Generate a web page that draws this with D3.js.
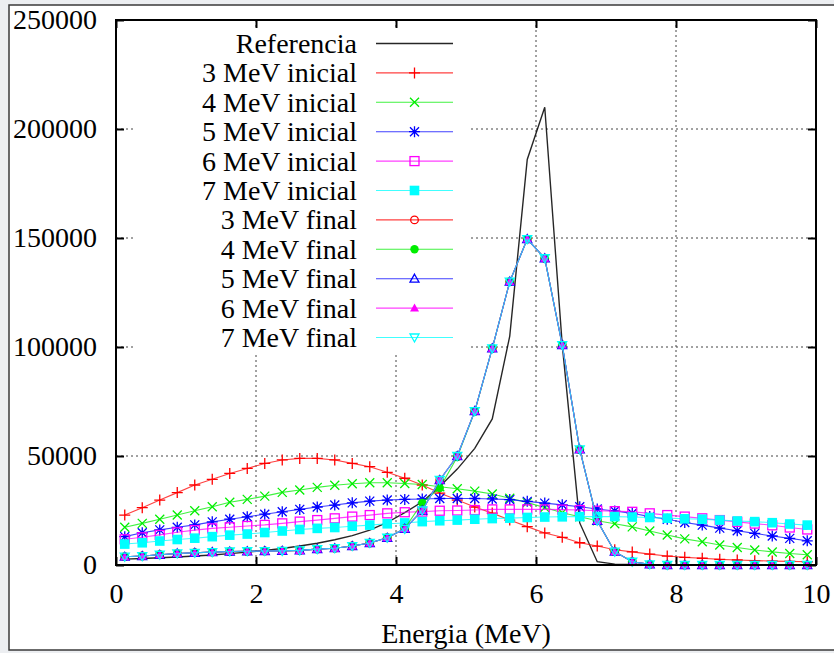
<!doctype html>
<html lang='es'>
  <head>
    <meta charset="utf-8">
    <script src="https://d3js.org/d3.v7.min.js"></script>
    <title>Energia (MeV)</title>
  <style>
  body {
    margin: 0;
    background-color: #eceef1;
  }

  svg text {
    font-family: "Liberation Serif", Tinos, "Times New Roman", Times, "Nimbus Roman", "Noto Serif", "DejaVu Serif", FreeSerif, serif !important;
  }
  </style>
  </head>

  <body>
    <div id='chart'></div>
    <script>
    // energias (centros de los bins, MeV)
    const energia = [0.125, 0.375, 0.625, 0.875, 1.125, 1.375, 1.625, 1.875, 2.125, 2.375,
                     2.625, 2.875, 3.125, 3.375, 3.625, 3.875, 4.125, 4.375, 4.625, 4.875,
                     5.125, 5.375, 5.625, 5.875, 6.125, 6.375, 6.625, 6.875, 7.125, 7.375,
                     7.625, 7.875, 8.125, 8.375, 8.625, 8.875, 9.125, 9.375, 9.625, 9.875];

    const referencia = [2700, 3000, 3300, 3700, 4100, 4600, 5200, 5900, 6700, 7600,
                        8700, 10000, 11600, 13500, 16000, 19500, 24000, 29000, 36000, 44000,
                        53500, 67000, 105000, 186000, 210000, 101000, 19300, 1500, 400, 200,
                        100, 0, 0, 0, 0, 0, 0, 0, 0, 0];

    const ini3 = [22900, 26300, 29800, 33200, 36700, 39300, 42000, 44300, 46600, 48200,
                  48900, 48900, 48200, 46600, 45100, 42500, 39800, 36700, 33000, 29800,
                  26600, 23800, 20600, 17600, 14700, 12700, 10200, 8700, 7000, 6000,
                  5000, 4100, 3500, 3100, 2600, 2300, 2000, 1800, 1650, 1500];

    const ini4 = [17300, 19100, 21000, 22900, 24900, 26700, 28800, 30100, 31600, 33300,
                  34400, 35600, 36600, 37300, 37700, 37700, 37400, 36900, 35900, 35000,
                  33900, 32600, 30600, 28600, 26400, 24000, 22100, 20300, 18900, 17500,
                  15600, 13800, 12000, 10700, 9200, 8000, 6900, 6000, 5300, 4700];

    const ini5 = [13000, 14800, 16100, 17300, 18400, 19800, 21000, 22100, 23300, 24400,
                  25500, 26600, 27500, 28500, 29300, 29800, 30100, 30300, 30500, 30500,
                  30500, 30300, 30000, 29200, 28400, 27600, 26700, 25700, 24800, 23700,
                  22200, 21000, 19500, 18300, 16900, 15700, 14500, 13300, 12200, 11100];

    const ini6 = [11800, 12700, 13800, 15000, 16000, 16800, 17300, 17900, 18400, 19100,
                  19900, 20600, 21400, 22200, 22900, 23700, 24200, 24500, 24900, 25000,
                  25200, 25500, 25500, 25500, 25500, 25400, 25200, 24900, 24700, 24400,
                  23700, 22900, 22200, 21400, 20600, 19800, 19000, 18200, 17200, 16300];

    const ini7 = [9600, 10200, 11000, 11700, 12300, 13000, 13700, 14200, 14900, 15600,
                  16300, 16800, 17200, 17800, 18300, 18900, 19300, 19900, 20300, 20600,
                  21000, 21300, 21500, 21800, 22000, 22100, 22200, 22200, 22200, 22000,
                  21800, 21500, 21200, 21000, 20600, 20200, 19900, 19400, 18800, 18300];

    const fin3 = [3800, 4100, 4700, 5300, 5600, 5900, 6200, 6300, 6400, 6500,
                  6700, 7300, 7700, 8700, 10100, 12500, 16600, 25000, 39000, 50000,
                  70600, 99400, 130000, 149500, 140700, 100900, 53000, 20300, 6100, 1500,
                  300, 0, 0, 0, 0, 0, 0, 0, 0, 0];

    const fin4 = [3800, 4100, 4700, 5300, 5600, 5900, 6200, 6300, 6400, 6500,
                  6700, 7300, 7700, 8700, 10100, 12500, 16800, 28500, 35300, 49500,
                  70400, 99400, 130000, 149500, 140700, 100900, 53000, 20300, 6100, 1500,
                  300, 0, 0, 0, 0, 0, 0, 0, 0, 0];

    const fin5 = [3800, 4100, 4700, 5300, 5600, 5900, 6200, 6300, 6400, 6500,
                  6700, 7300, 7700, 8700, 10100, 12500, 16600, 25000, 39000, 50000,
                  70600, 99400, 130000, 149500, 140700, 100900, 53000, 20300, 6100, 1500,
                  300, 0, 0, 0, 0, 0, 0, 0, 0, 0];

    const fin6 = [3800, 4100, 4700, 5300, 5600, 5900, 6200, 6300, 6400, 6500,
                  6700, 7300, 7700, 8700, 10100, 12500, 16600, 25000, 39000, 50000,
                  70600, 99400, 130000, 149500, 140700, 100900, 53000, 20300, 6100, 1500,
                  300, 0, 0, 0, 0, 0, 0, 0, 0, 0];

    const fin7 = [3800, 4100, 4700, 5300, 5600, 5900, 6200, 6300, 6400, 6500,
                  6700, 7300, 7700, 8700, 10100, 12500, 16600, 25000, 39000, 50000,
                  70600, 99400, 130000, 149500, 140700, 100900, 53000, 20300, 6100, 1500,
                  300, 0, 0, 0, 0, 0, 0, 0, 0, 0];

    const xTicks = [0, 2, 4, 6, 8, 10];
    const yTicks = [0, 50000, 100000, 150000, 200000, 250000];

    const series = [
      {name: 'Referencia',     values: referencia, color: '#000000', marker: null},
      {name: '3 MeV inicial',  values: ini3, color: '#ff0000', marker: 'plus'},
      {name: '4 MeV inicial',  values: ini4, color: '#00ee00', marker: 'cross'},
      {name: '5 MeV inicial',  values: ini5, color: '#0000ff', marker: 'star'},
      {name: '6 MeV inicial',  values: ini6, color: '#ff00ff', marker: 'square'},
      {name: '7 MeV inicial',  values: ini7, color: '#00ffff', marker: 'squareFill'},
      {name: '3 MeV final',    values: fin3, color: '#ff0000', marker: 'circle'},
      {name: '4 MeV final',    values: fin4, color: '#00ee00', marker: 'circleFill'},
      {name: '5 MeV final',    values: fin5, color: '#0000ff', marker: 'triangle'},
      {name: '6 MeV final',    values: fin6, color: '#ff00ff', marker: 'triangleFill'},
      {name: '7 MeV final',    values: fin7, color: '#00ffff', marker: 'triangleDown'}
    ];

    const W = 834, H = 653;
    const pLeft = 116, pRight = 816, pTop = 20, pBottom = 565;

    const svg = d3.select('#chart')
                  .append('svg')
                  .attr('width', W)
                  .attr('height', H);

    // marco de la imagen
    svg.append('rect')
       .attr('x', 9).attr('y', 5)
       .attr('width', W).attr('height', 645)
       .attr('fill', 'white')
       .attr('stroke', '#3a3a3a')
       .attr('stroke-width', 1.5);

    const xScale = d3.scaleLinear().domain([0, 10]).range([pLeft, pRight]);
    const yScale = d3.scaleLinear().domain([0, 250000]).range([pBottom, pTop]);

    // rejilla
    const grid = svg.append('g')
                    .attr('stroke', '#444')
                    .attr('stroke-width', 1)
                    .attr('stroke-dasharray', '2,3');
    grid.selectAll('.gx')
        .data(xTicks.slice(1, -1))
        .enter()
        .append('line')
        .attr('x1', d => xScale(d)).attr('x2', d => xScale(d))
        .attr('y1', pTop).attr('y2', pBottom);
    grid.selectAll('.gy')
        .data(yTicks.slice(1, -1))
        .enter()
        .append('line')
        .attr('x1', pLeft).attr('x2', pRight)
        .attr('y1', d => yScale(d)).attr('y2', d => yScale(d));

    // caja opaca de la leyenda
    svg.append('rect')
       .attr('x', 133).attr('y', 28)
       .attr('width', 337).attr('height', 327)
       .attr('fill', 'white');

    function drawMarker(g, type, color) {
      const sw = 1.3;
      if (type === 'plus') {
        g.append('path').attr('d', 'M-5.5,0H5.5M0,-5.5V5.5').attr('stroke', color).attr('stroke-width', sw);
      } else if (type === 'cross') {
        g.append('path').attr('d', 'M-4.5,-4.5L4.5,4.5M-4.5,4.5L4.5,-4.5').attr('stroke', color).attr('stroke-width', sw);
      } else if (type === 'star') {
        g.append('path').attr('d', 'M-5.5,0H5.5M0,-5.5V5.5M-4.5,-4.5L4.5,4.5M-4.5,4.5L4.5,-4.5').attr('stroke', color).attr('stroke-width', sw);
      } else if (type === 'square') {
        g.append('rect').attr('x', -4.5).attr('y', -4.5).attr('width', 9).attr('height', 9)
         .attr('fill', 'none').attr('stroke', color).attr('stroke-width', sw);
      } else if (type === 'squareFill') {
        g.append('rect').attr('x', -4.8).attr('y', -4.8).attr('width', 9.6).attr('height', 9.6)
         .attr('fill', color);
      } else if (type === 'circle') {
        g.append('circle').attr('r', 3.8).attr('fill', 'none').attr('stroke', color).attr('stroke-width', sw);
      } else if (type === 'circleFill') {
        g.append('circle').attr('r', 4.2).attr('fill', color);
      } else if (type === 'triangle') {
        g.append('path').attr('d', 'M0,-4.5L4.5,3.5L-4.5,3.5Z')
         .attr('fill', 'none').attr('stroke', color).attr('stroke-width', sw);
      } else if (type === 'triangleFill') {
        g.append('path').attr('d', 'M0,-4.5L4.5,3.5L-4.5,3.5Z').attr('fill', color);
      } else if (type === 'triangleDown') {
        g.append('path').attr('d', 'M0,4.5L4.5,-3.5L-4.5,-3.5Z')
         .attr('fill', 'none').attr('stroke', color).attr('stroke-width', sw);
      }
    }

    const line = d3.line()
                   .x((d, i) => xScale(energia[i]))
                   .y(d => yScale(d));

    const plot = svg.append('g');
    series.forEach(s => {
      plot.append('path')
          .datum(s.values)
          .attr('d', line)
          .attr('fill', 'none')
          .attr('stroke', s.color)
          .attr('stroke-opacity', s.marker ? 0.75 : 0.85)
          .attr('stroke-width', s.marker ? 1.1 : 1.4);
      if (s.marker) {
        s.values.forEach((v, i) => {
          const g = plot.append('g')
                        .attr('transform', 'translate(' + xScale(energia[i]) + ',' + yScale(v) + ')');
          drawMarker(g, s.marker, s.color);
        });
      }
    });

    // ejes
    const fmt = d3.format('d');
    const xAxis = d3.axisBottom(xScale).tickValues(xTicks).tickFormat(fmt).tickSizeInner(-8).tickSizeOuter(0).tickPadding(18);
    const yAxis = d3.axisLeft(yScale).tickValues(yTicks).tickFormat(fmt).tickSizeInner(-8).tickSizeOuter(0).tickPadding(19);
    const xTop = d3.axisTop(xScale).tickValues(xTicks).tickSizeInner(-8).tickSizeOuter(0).tickFormat('');
    const yRight = d3.axisRight(yScale).tickValues(yTicks).tickSizeInner(-8).tickSizeOuter(0).tickFormat('');

    const axes = [
      [xAxis, 'translate(0,' + pBottom + ')'],
      [yAxis, 'translate(' + pLeft + ',0)'],
      [xTop, 'translate(0,' + pTop + ')'],
      [yRight, 'translate(' + pRight + ',0)']
    ];
    axes.forEach(a => {
      const g = svg.append('g').attr('transform', a[1]).call(a[0]);
      g.attr('font-size', 28);
      g.select('.domain').remove();
      g.selectAll('line').attr('stroke', '#000').attr('stroke-width', 2);
      g.selectAll('text').attr('fill', '#000');
    });

    svg.append('rect')
       .attr('x', pLeft).attr('y', pTop)
       .attr('width', pRight - pLeft).attr('height', pBottom - pTop)
       .attr('fill', 'none')
       .attr('stroke', '#000')
       .attr('stroke-width', 2);

    svg.append('text')
       .attr('x', (pLeft + pRight) / 2)
       .attr('y', 643)
       .attr('text-anchor', 'middle')
       .attr('font-size', 28)
       .text('Energia (MeV)');

    // leyenda
    const legend = svg.append('g');
    series.forEach((s, i) => {
      const yc = 43.5 + i * 29.4;
      legend.append('text')
            .attr('x', 357)
            .attr('y', yc + 9.5)
            .attr('text-anchor', 'end')
            .attr('font-size', 28)
            .text(s.name);
      legend.append('line')
            .attr('x1', 376).attr('x2', 453)
            .attr('y1', yc).attr('y2', yc)
            .attr('stroke', s.color)
            .attr('stroke-opacity', s.marker ? 0.75 : 0.85)
            .attr('stroke-width', s.marker ? 1.1 : 1.4);
      if (s.marker) {
        const g = legend.append('g').attr('transform', 'translate(414.5,' + yc + ')');
        drawMarker(g, s.marker, s.color);
      }
    });
    </script>
  </body>
</html>
